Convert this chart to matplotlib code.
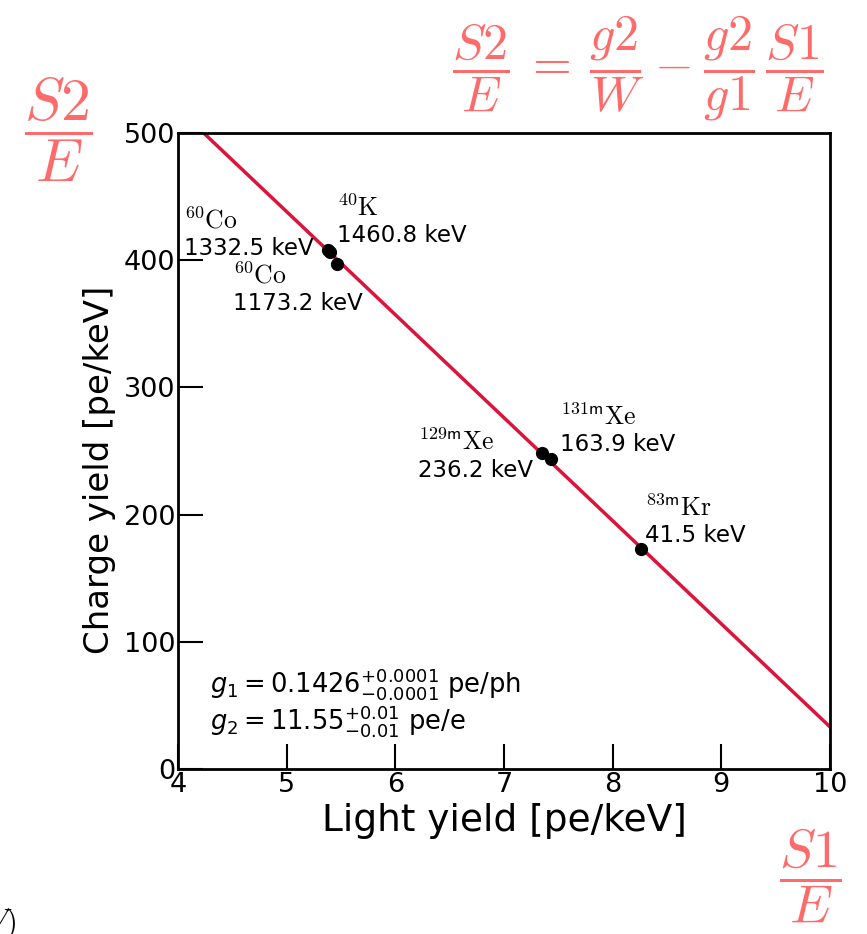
import numpy as np
import matplotlib.pyplot as plt

# Калибровочные точки: световой и зарядовый выход
sources = [r'$^{\mathsf{60}}\mathrm{Co}$', r'$^{\mathsf{40}}\mathrm{K}$', r'$^{\mathsf{60}}\mathrm{Co}$',
           r'$^{\mathsf{129m}}\mathrm{Xe}$', r'$^{\mathsf{131m}}\mathrm{Xe}$', r'$^{\mathsf{83m}}\mathrm{Kr}$']
energies = ['1332.5 keV', '1460.8 keV', '1173.2 keV', '236.2 keV', '163.9 keV', '41.5 keV']
light_yield = [5.38, 5.40, 5.46, 7.35, 7.43, 8.26]
charge_yield = [408, 406, 397, 248, 244, 173]
label_x = [4.055, 5.463, 4.506, 6.209, 7.515, 8.297]
label_y = [404, 414, 361, 229.6, 250, 178.5]

g1 = 0.1426
g2 = 11.55
W = 0.0137  # keV

fig = plt.figure(figsize=(8.67, 9.34), dpi=100)
ax = fig.add_axes([0.2053, 0.1767, 0.752, 0.681])

# Линия аппроксимации
xl = np.linspace(4, 10, 200)
ax.plot(xl, g2 / W - g2 / g1 * xl, color='#dc143c', lw=2.5, zorder=2)
ax.plot(light_yield, charge_yield, 'o', color='black', ms=8.5, zorder=3)

for s, e, x, y in zip(sources, energies, label_x, label_y):
    ax.text(x, y, e, fontsize=16.5, ha='left', va='baseline')
    ax.annotate(s, xy=(x, y), xytext=(0, 19), textcoords='offset points',
                fontsize=18.5, math_fontfamily='cm', ha='left', va='baseline')

ax.text(4.29, 60, r'$g_1 = 0.1426^{+0.0001}_{-0.0001}$ pe/ph', fontsize=18.5, va='baseline')
ax.text(4.29, 31, r'$g_2 = 11.55^{+0.01}_{-0.01}$ pe/e', fontsize=18.5, va='baseline')

ax.set_xlim(4, 10)
ax.set_ylim(0, 500)
ax.set_xticks([4, 5, 6, 7, 8, 9, 10])
ax.set_yticks([0, 100, 200, 300, 400, 500])
ax.tick_params(direction='in', length=18, width=1.5, labelsize=19.5, pad=2)
for sp in ax.spines.values():
    sp.set_linewidth(2)
ax.set_xlabel('Light yield [pe/keV]', fontsize=27, labelpad=4)
ax.set_ylabel('Charge yield [pe/keV]', fontsize=24.5)
ax.yaxis.set_label_coords(-0.095, 0.47)

pink = '#ff6b6b'
fig.text(0.736, 0.927,
         r'$\dfrac{S2}{E} \:=\: \dfrac{g2}{W} \:-\: \dfrac{g2}{g1}\,\dfrac{S1}{E}$',
         fontsize=36, color=pink, math_fontfamily='cm', ha='center', va='center')
fig.text(0.067, 0.861, r'$\dfrac{S2}{E}$', fontsize=43, color=pink, math_fontfamily='cm',
         ha='center', va='center')
fig.text(0.934, 0.062, r'$\dfrac{S1}{E}$', fontsize=39, color=pink, math_fontfamily='cm',
         ha='center', va='center')
fig.text(0.019, -0.008, r'$(keV)$', fontsize=22, color='black', math_fontfamily='cm',
         ha='right', va='bottom')

fig.savefig('out.png', dpi=100)
